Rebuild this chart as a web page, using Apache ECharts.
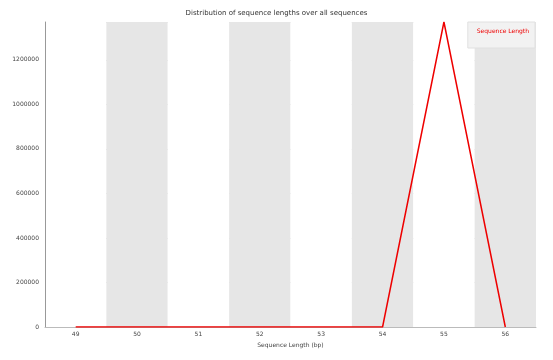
<!DOCTYPE html>
<html><head><meta charset="utf-8">
<script src="https://cdn.jsdelivr.net/npm/echarts@6/dist/echarts.min.js"></script>
<style>html,body{margin:0;padding:0;background:#fff}#c{width:553px;height:360px}</style>
</head><body><div id="c"></div>
<script>
const categories = ['49','50','51','52','53','54','55','56'];
const seqLength = [0, 0, 0, 0, 0, 0, 1370000, 0];
const yTicks = [0, 200000, 400000, 600000, 800000, 1000000, 1200000];

const chart = echarts.init(document.getElementById('c'), null, {renderer:'canvas'});
chart.setOption({
  animation: false,
  title: {text: 'Distribution of sequence lengths over all sequences', left: 'center', top: 5,
    textStyle: {fontSize: 7, fontWeight: 'normal', color: '#333', fontFamily: 'DejaVu Sans'}},
  legend: {data: ['Sequence Length'], right: 18, top: 22, orient: 'vertical',
    itemWidth: 0, itemHeight: 0, icon: 'none', padding: [6, 6, 14, 4],
    backgroundColor: '#f2f2f2', borderColor: '#e0e0e0', borderWidth: 1,
    textStyle: {fontSize: 6, color: '#e00', fontFamily: 'DejaVu Sans'}},
  grid: {left: 45, right: 17, top: 22, bottom: 33},
  xAxis: {type: 'category', data: categories, boundaryGap: true,
    name: 'Sequence Length (bp)', nameLocation: 'middle', nameGap: 15,
    nameTextStyle: {fontSize: 6, color: '#444', fontFamily: 'DejaVu Sans'},
    axisLine: {lineStyle: {color: '#bbb'}}, axisTick: {show: false},
    axisLabel: {fontSize: 6, color: '#444', margin: 4, fontFamily: 'DejaVu Sans'},
    splitArea: {show: true, areaStyle: {color: ['rgba(255,255,255,1)', '#e6e6e6']}}},
  yAxis: {type: 'value', min: 0, max: 1370000, interval: 200000,
    axisLine: {show: true, lineStyle: {color: '#999'}}, axisTick: {show: false},
    axisLabel: {fontSize: 6, color: '#444', margin: 6, fontFamily: 'DejaVu Sans',
      formatter: v => yTicks.includes(v) ? String(v) : ''},
    splitLine: {lineStyle: {color: '#d8d8d8', width: 1}}},
  series: [{name: 'Sequence Length', type: 'line', data: seqLength, symbol: 'none',
    lineStyle: {color: '#e00', width: 1.5}, itemStyle: {color: '#e00'}, z: 5}]
});
</script></body></html>
